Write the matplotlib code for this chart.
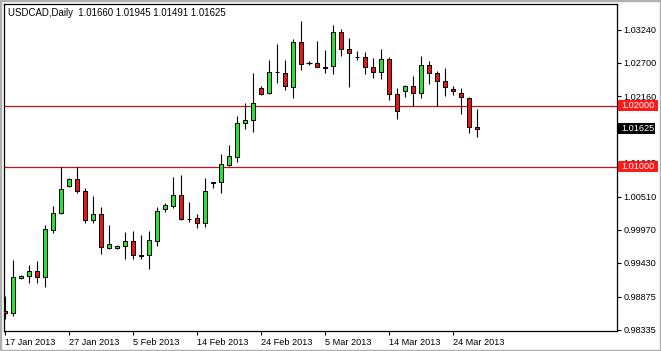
import matplotlib
matplotlib.use("Agg")
import matplotlib.pyplot as plt
import matplotlib.transforms as mtransforms
from matplotlib.patches import Rectangle
import numpy as np

# USDCAD daily candles, 17 Jan 2013 .. 27 Mar 2013
opens = [0.98643, 0.98610, 0.99183, 0.99215, 0.99297, 0.99199, 0.99968, 1.00246, 1.00688, 1.00802,
         1.00606, 1.00132, 1.00230, 0.99674, 0.99674, 0.99706, 0.99788, 0.99559, 0.99559, 0.99788,
         1.00312, 1.00361, 1.00541, 1.00148, 1.00164, 1.00083, 1.00753, 1.00753, 1.01031, 1.01162,
         1.01719, 1.01768, 1.02291, 1.02209, 1.02553, 1.02537, 1.02308, 1.03044, 1.02700, 1.02700,
         1.02635, 1.02651, 1.03207, 1.02929, 1.02798, 1.02798, 1.02635, 1.02553, 1.02766, 1.02193,
         1.02242, 1.02324, 1.02209, 1.02667, 1.02537, 1.02406, 1.02275, 1.02209, 1.02128, 1.01660]
highs = [0.98888, 0.99477, 0.99232, 0.99395, 0.99461, 1.00050, 1.00361, 1.00999, 1.00819, 1.00999,
         1.00655, 1.00524, 1.00344, 1.00050, 0.99723, 0.99935, 0.99952, 0.99886, 0.99952, 1.00344,
         1.00410, 1.00835, 1.00868, 1.00426, 1.00230, 1.00819, 1.00753, 1.01211, 1.01359, 1.01833,
         1.02046, 1.02537, 1.02324, 1.02749, 1.03011, 1.02749, 1.03093, 1.03387, 1.02733, 1.03060,
         1.02913, 1.03322, 1.03256, 1.03109, 1.02896, 1.02880, 1.02782, 1.02929, 1.02798, 1.02291,
         1.02340, 1.02487, 1.02815, 1.02733, 1.02569, 1.02618, 1.02324, 1.02291, 1.02144, 1.01945]
lows = [0.98512, 0.98561, 0.99166, 0.99101, 0.99101, 0.99035, 0.99919, 1.00230, 1.00671, 1.00573,
        1.00083, 1.00083, 0.99575, 0.99657, 0.99657, 0.99494, 0.99494, 0.99494, 0.99330, 0.99706,
        1.00262, 1.00328, 1.00132, 1.00099, 1.00001, 1.00017, 1.00655, 1.00573, 1.01015, 1.01080,
        1.01620, 1.01571, 1.02177, 1.02193, 1.02373, 1.02258, 1.02128, 1.02586, 1.02667, 1.02635,
        1.02537, 1.02520, 1.02815, 1.02308, 1.02749, 1.02520, 1.02455, 1.02438, 1.02095, 1.01784,
        1.02144, 1.01997, 1.02128, 1.02357, 1.01997, 1.02160, 1.02177, 1.01866, 1.01555, 1.01491]
closes = [0.98610, 0.99199, 0.99215, 0.99297, 0.99199, 0.99984, 1.00246, 1.00639, 1.00802, 1.00606,
          1.00132, 1.00230, 0.99690, 0.99739, 0.99706, 0.99788, 0.99559, 0.99551, 0.99804, 1.00279,
          1.00377, 1.00541, 1.00148, 1.00140, 1.00083, 1.00606, 1.00737, 1.01048, 1.01179, 1.01719,
          1.01768, 1.02046, 1.02193, 1.02553, 1.02545, 1.02324, 1.03044, 1.02684, 1.02700, 1.02635,
          1.02626, 1.03207, 1.02929, 1.02864, 1.02790, 1.02635, 1.02553, 1.02766, 1.02193, 1.01915,
          1.02324, 1.02209, 1.02667, 1.02537, 1.02406, 1.02308, 1.02242, 1.02144, 1.01653, 1.01625]

date_ticks = [0, 8, 16, 24, 32, 40, 48, 56]
date_labels = ["17 Jan 2013", "27 Jan 2013", "5 Feb 2013", "14 Feb 2013",
               "24 Feb 2013", "5 Mar 2013", "14 Mar 2013", "24 Mar 2013"]
price_ticks = [1.03240, 1.02700, 1.02160, 1.01610, 1.01065, 1.00510,
               0.99970, 0.99430, 0.98875, 0.98335]
# 1.01610 sits under the current-price box, so its label is not shown
price_labels = ["1.03240", "1.02700", "1.02160", "", "1.01065", "1.00510",
                "0.99970", "0.99430", "0.98875", "0.98335"]
levels = [1.02000, 1.01000]
last_price = 1.01625

plt.rcParams['font.family'] = ['Liberation Sans', 'DejaVu Sans']
FS = 6.6

W, H = 661, 351
fig = plt.figure(figsize=(W / 100, H / 100), dpi=100)
fig.patch.set_facecolor('white')
# plot box in pixels: x 4..617, y 4..331
ax = fig.add_axes([4 / W, (H - 331) / H, (617 - 4) / W, (331 - 4) / H])
ax.set_xlim(-0.125, 76.5)
ax.set_ylim(0.98316, 1.03665)

o = np.array(opens); h = np.array(highs); l = np.array(lows); c = np.array(closes)
x = np.arange(len(o))

# wicks
ax.vlines(x, l, h, color='black', lw=0.8, zorder=2)

# bodies
doji = np.abs(c - o) < 0.00005
body = ~doji
up = (c > o) & body
dn = (c < o) & body
ax.bar(x[up], (c - o)[up], bottom=o[up], width=0.62, color='#2fe02f',
       edgecolor='black', lw=0.7, zorder=3)
ax.bar(x[dn], (o - c)[dn], bottom=c[dn], width=0.62, color='#e01818',
       edgecolor='black', lw=0.7, zorder=3)
ax.hlines(o[doji], x[doji] - 0.33, x[doji] + 0.33, color='black', lw=0.9, zorder=3)

# horizontal levels
for lv in levels:
    ax.axhline(lv, color='#c81010', lw=0.9, zorder=1)

# axes styling
for s in ax.spines.values():
    s.set_color('black')
    s.set_linewidth(0.9)
ax.yaxis.tick_right()
ax.set_yticks(price_ticks)
ax.set_yticklabels(price_labels)
ax.set_xticks(date_ticks)
ax.set_xticklabels(date_labels)
for lab in ax.get_xticklabels():
    lab.set_horizontalalignment('left')
ax.tick_params(axis='both', direction='out', length=3, width=0.8, color='black',
               labelsize=FS, pad=1.5)
ax.tick_params(axis='x', pad=2)

# price labels on the right axis
trans = mtransforms.blended_transform_factory(ax.transAxes, ax.transData)
pxw = 1 / 613.0
pxh = (1.03665 - 0.98316) / 327.0


def price_box(y, txt, fc, w_px):
    ax.add_patch(Rectangle((1 + 1 * pxw, y - 5.5 * pxh), w_px * pxw, 11 * pxh,
                           transform=trans, facecolor=fc, edgecolor='none',
                           clip_on=False, zorder=6))
    ax.text(1 + 4 * pxw, y, txt, transform=trans, color='white', fontsize=FS,
            va='center', ha='left', clip_on=False, zorder=7)


for lv in levels:
    price_box(lv, "%.5f" % lv, '#ff1a1a', 40)
price_box(last_price, "%.5f" % last_price, 'black', 37)

# header
fig.text(8 / W, 1 - 13 / H, "USDCAD,Daily  1.01660 1.01945 1.01491 1.01625",
         fontsize=FS + 0.3, va='center', ha='left', color='black')

# window frame
fig.patches.append(Rectangle((0, 0), 1, 1, transform=fig.transFigure, fill=False,
                             edgecolor='#b0b0b0', lw=2.5))

fig.savefig("out.png", dpi=100, facecolor='white')
